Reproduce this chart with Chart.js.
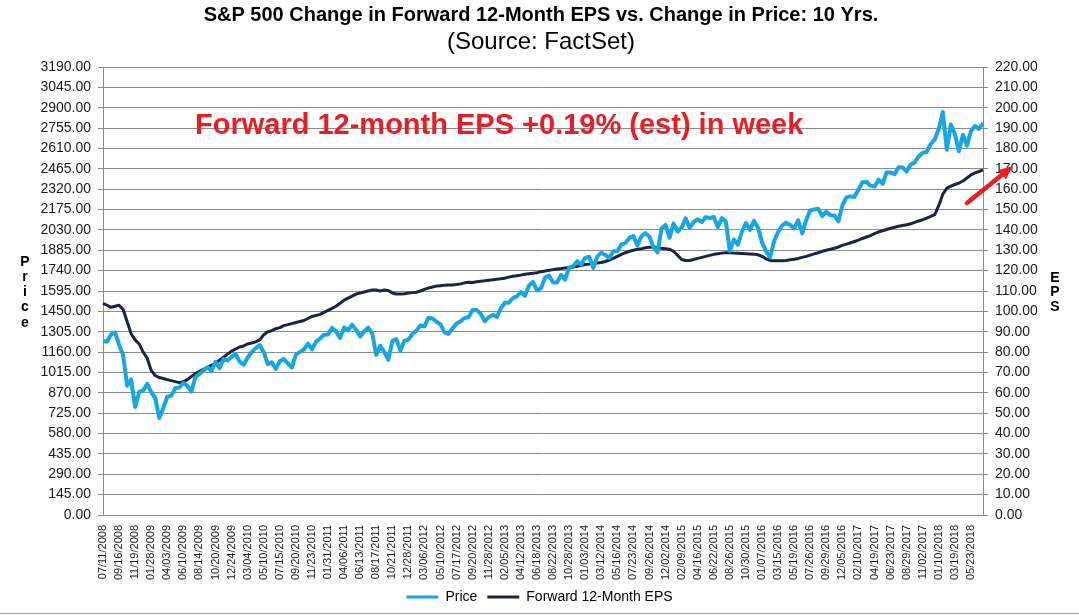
<!DOCTYPE html>
<html>
<head>
<meta charset="utf-8">
<title>S&amp;P 500 Forward EPS vs Price</title>
<script src="https://cdn.jsdelivr.net/npm/chart.js@4.4.1/dist/chart.umd.min.js"></script>
<style>
  html, body { margin: 0; padding: 0; background: #fff; }
  #wrap { width: 1079px; height: 616px; }
</style>
</head>
<body>
<div id="wrap"><canvas id="chart" width="1079" height="616"></canvas></div>
<script>
// date shown under every 4th point
const tickDates = [
  "07/11/2008", "09/16/2008", "11/19/2008", "01/28/2009", "04/03/2009", "06/10/2009",
  "08/14/2009", "10/20/2009", "12/24/2009", "03/04/2010", "05/10/2010", "07/15/2010",
  "09/20/2010", "11/23/2010", "01/31/2011", "04/06/2011", "06/13/2011", "08/17/2011",
  "10/21/2011", "12/28/2011", "03/06/2012", "05/10/2012", "07/17/2012", "09/20/2012",
  "11/28/2012", "02/05/2013", "04/12/2013", "06/18/2013", "08/22/2013", "10/28/2013",
  "01/03/2014", "03/12/2014", "05/16/2014", "07/23/2014", "09/26/2014", "12/02/2014",
  "02/09/2015", "04/16/2015", "06/22/2015", "08/26/2015", "10/30/2015", "01/07/2016",
  "03/15/2016", "05/19/2016", "07/26/2016", "09/29/2016", "12/05/2016", "02/10/2017",
  "04/19/2017", "06/23/2017", "08/29/2017", "11/02/2017", "01/10/2018", "03/19/2018",
  "05/23/2018"
];
const pointsPerTick = 4;

// S&P 500 price, 4 readings per label interval
const price = [
  1239, 1234, 1285, 1300,   1213, 1140, 920, 965,     770, 876, 887, 934,
  874, 833, 690, 760,       842, 850, 904, 908,       940, 920, 879, 982,
  1004, 1028, 1052, 1025,   1091, 1045, 1110, 1100,   1126, 1146, 1092, 1070,
  1122, 1160, 1187, 1210,   1159, 1074, 1087, 1040,   1096, 1110, 1079, 1050,
  1142, 1160, 1178, 1221,   1180, 1233, 1257, 1283,   1286, 1332, 1306, 1260,
  1335, 1315, 1355, 1317,   1271, 1307, 1335, 1292,   1140, 1204, 1160, 1105,
  1238, 1253, 1170, 1240,   1249, 1289, 1313, 1350,   1343, 1405, 1399, 1376,
  1357, 1300, 1290, 1330,   1363, 1379, 1403, 1410,   1460, 1460, 1433, 1380,
  1409, 1425, 1410, 1472,   1511, 1511, 1545, 1556,   1588, 1560, 1633, 1660,
  1600, 1615, 1689, 1705,   1656, 1655, 1710, 1676,   1762, 1771, 1807, 1782,
  1831, 1839, 1760, 1840,   1868, 1852, 1830, 1878,   1878, 1925, 1937, 1973,
  1987, 1920, 1986, 2007,   1982, 1906, 1870, 2038,   2066, 1975, 2075, 2019,
  2046, 2112, 2044, 2085,   2106, 2086, 2121, 2115,   2122, 2050, 2114, 2090,
  1880, 1961, 1925, 2017,   2079, 2030, 2095, 2045,   1943, 1878, 1835, 1948,
  2015, 2060, 2082, 2065,   2040, 2099, 2005, 2100,   2169, 2175, 2180, 2128,
  2160, 2135, 2133, 2090,   2204, 2262, 2269, 2265,   2316, 2369, 2373, 2345,
  2338, 2388, 2357, 2439,   2438, 2427, 2477, 2474,   2446, 2495, 2510, 2553,
  2579, 2585, 2642, 2675,   2748, 2870, 2600, 2780,   2712, 2590, 2708, 2630,
  2733, 2770, 2749, 2790
];

// forward 12-month EPS, same spacing
const eps = [
  104, 103, 102, 102.5,     103, 101, 95, 89,         86, 84, 80, 77,
  71, 68.5, 67.5, 67,       66.5, 66, 65.5, 65,       65.5, 66.5, 68, 69.5,
  70.5, 71.5, 72.5, 73.5,   74.5, 76, 77.5, 79,       80.5, 81.5, 82.5, 83,
  84, 84.5, 85, 86,         88.5, 90, 90.5, 91.5,     92, 93, 93.5, 94,
  94.5, 95, 95.5, 96.5,     97.5, 98, 98.5, 99.5,     100.5, 101.5, 102.5, 104,
  105.5, 106.5, 107.5, 108.5, 109, 109.5, 110, 110.5, 110.5, 110, 110.5, 110.3,
  109, 108.5, 108.5, 108.7, 109, 109.2, 109.4, 110,   110.8, 111.5, 112, 112.4,
  112.6, 112.8, 112.9, 113, 113.2, 113.5, 114, 114.3, 114.2, 114.5, 114.8, 115,
  115.3, 115.5, 115.8, 116, 116.3, 116.8, 117.2, 117.5, 117.8, 118.2, 118.5, 118.7,
  119, 119.5, 119.8, 120.2, 120.5, 120.8, 121, 121.3, 121.6, 121.8, 122.2, 122.5,
  123, 123.2, 123.5, 123.8, 124, 124.5, 125.2, 126,   127, 128, 128.8, 129.5,
  130, 130.5, 130.8, 131.2, 131.5, 131.6, 131.3, 131, 130.8, 130.5, 129.5, 127.5,
  125.5, 125, 125, 125.5,   126, 126.5, 127, 127.5,   128, 128.3, 128.6, 128.8,
  128.8, 128.6, 128.5, 128.4, 128.3, 128.2, 128.1, 127.8, 127, 125.8, 125, 124.8,
  124.8, 124.8, 125, 125.3, 125.6, 126, 126.5, 127,   127.6, 128.2, 128.8, 129.5,
  130, 130.5, 131, 131.6,   132.4, 133, 133.6, 134.3, 135, 135.8, 136.5, 137.2,
  138.2, 139, 139.6, 140.2, 140.8, 141.3, 141.8, 142.2, 142.5, 143, 143.7, 144.4,
  145, 145.8, 146.6, 147.5, 152, 157.5, 160.5, 161.5, 162.3, 163, 164, 165.5,
  167, 168, 168.7, 169.4
];

const priceTicks = { min: 0, max: 3190, step: 145 };
const epsTicks = { min: 0, max: 220, step: 10 };

const titleText = "S&P 500 Change in Forward 12-Month EPS vs. Change in Price: 10 Yrs.";
const subtitleText = "(Source: FactSet)";
const noteText = "Forward 12-month EPS +0.19% (est) in week";

// category labels: date on every 4th point, blank between
let labels = [];
for (let i = 0; i < price.length; i++) {
    labels.push(i % pointsPerTick === 0 ? (tickDates[i / pointsPerTick] || "") : "");
}

const FONT = "'Liberation Sans', Arial, sans-serif";
Chart.defaults.font.family = FONT;
Chart.defaults.color = "#1a1a1a";

const gridGray = "#8c8c8c";

// titles, stacked axis names, red note and arrow
const decor = {
    id: "decor",
    afterDraw(chart) {
        const ctx = chart.ctx;
        ctx.save();
        ctx.fillStyle = "#000";
        ctx.textAlign = "center";
        ctx.textBaseline = "middle";
        ctx.font = "bold 20px " + FONT;
        ctx.fillText(titleText, 541, 15);
        ctx.font = "24px " + FONT;
        ctx.fillText(subtitleText, 541, 42);

        ctx.font = "bold 14px " + FONT;
        "Price".split("").forEach((ch, i) => ctx.fillText(ch, 25, 262 + i * 15.2));
        "EPS".split("").forEach((ch, i) => ctx.fillText(ch, 1055, 278 + i * 14.5));

        ctx.fillStyle = "#ea1c24";
        ctx.font = "bold 29px " + FONT;
        ctx.textAlign = "left";
        ctx.fillText(noteText, 195, 126);

        // arrow
        const x0 = 967, y0 = 203, x1 = 1013, y1 = 166;
        const ang = Math.atan2(y1 - y0, x1 - x0);
        const head = 14;
        ctx.strokeStyle = "#ea1c24";
        ctx.lineWidth = 4.5;
        ctx.lineCap = "round";
        ctx.beginPath();
        ctx.moveTo(x0, y0);
        ctx.lineTo(x1 - Math.cos(ang) * head * 0.8, y1 - Math.sin(ang) * head * 0.8);
        ctx.stroke();
        ctx.beginPath();
        ctx.moveTo(x1, y1);
        ctx.lineTo(x1 - head * Math.cos(ang) + 6 * Math.sin(ang), y1 - head * Math.sin(ang) - 6 * Math.cos(ang));
        ctx.lineTo(x1 - head * Math.cos(ang) - 6 * Math.sin(ang), y1 - head * Math.sin(ang) + 6 * Math.cos(ang));
        ctx.closePath();
        ctx.fillStyle = "#ea1c24";
        ctx.fill();

        // frame line along the bottom
        ctx.strokeStyle = "#a0a0a0";
        ctx.lineWidth = 1;
        ctx.beginPath();
        ctx.moveTo(0, 613.5);
        ctx.lineTo(1079, 613.5);
        ctx.stroke();
        ctx.restore();
    }
};

let chart = new Chart(document.getElementById("chart"), {
    type: "line",
    data: {
        labels: labels,
        datasets: [
            {
                label: "Price",
                data: price,
                yAxisID: "y",
                borderColor: "#16a6e4",
                borderWidth: 4,
                pointRadius: 0,
                tension: 0,
                borderJoinStyle: "round"
            },
            {
                label: "Forward 12-Month EPS",
                data: eps,
                yAxisID: "y1",
                borderColor: "#1b2447",
                borderWidth: 3,
                pointRadius: 0,
                tension: 0,
                borderJoinStyle: "round"
            }
        ]
    },
    options: {
        responsive: false,
        animation: false,
        layout: { padding: { top: 67, bottom: 2, left: 0, right: 0 } },
        plugins: {
            title: { display: false },
            tooltip: { enabled: false },
            legend: {
                display: true,
                position: "bottom",
                labels: {
                    boxWidth: 32,
                    boxHeight: 3,
                    padding: 10,
                    color: "#1a1a1a",
                    font: { size: 14 },
                    generateLabels: function (c) {
                        return c.data.datasets.map(function (ds, i) {
                            return {
                                text: ds.label,
                                fillStyle: ds.borderColor,
                                strokeStyle: ds.borderColor,
                                lineWidth: 0,
                                hidden: false,
                                datasetIndex: i
                            };
                        });
                    }
                }
            }
        },
        scales: {
            x: {
                type: "category",
                offset: false,
                grid: { display: false },
                border: { display: false },
                ticks: {
                    autoSkip: false,
                    minRotation: 90,
                    maxRotation: 90,
                    padding: 2,
                    font: { size: 11 },
                    color: "#1a1a1a"
                },
                afterFit: function (s) { s.height = 65; }
            },
            y: {
                position: "left",
                min: priceTicks.min,
                max: priceTicks.max,
                grid: { color: gridGray, lineWidth: 1, tickLength: 5 },
                border: { color: gridGray },
                ticks: {
                    stepSize: priceTicks.step,
                    padding: 7,
                    font: { size: 14 },
                    color: "#1a1a1a",
                    callback: function (v) { return Number(v).toFixed(2); }
                },
                afterFit: function (s) { s.width = 103; }
            },
            y1: {
                position: "right",
                min: epsTicks.min,
                max: epsTicks.max,
                grid: { drawOnChartArea: false, color: gridGray, tickLength: 5 },
                border: { color: gridGray },
                ticks: {
                    stepSize: epsTicks.step,
                    padding: 7,
                    font: { size: 14 },
                    color: "#1a1a1a",
                    callback: function (v) { return Number(v).toFixed(2); }
                },
                afterFit: function (s) { s.width = 96; }
            }
        }
    },
    plugins: [decor]
});
</script>
</body>
</html>
